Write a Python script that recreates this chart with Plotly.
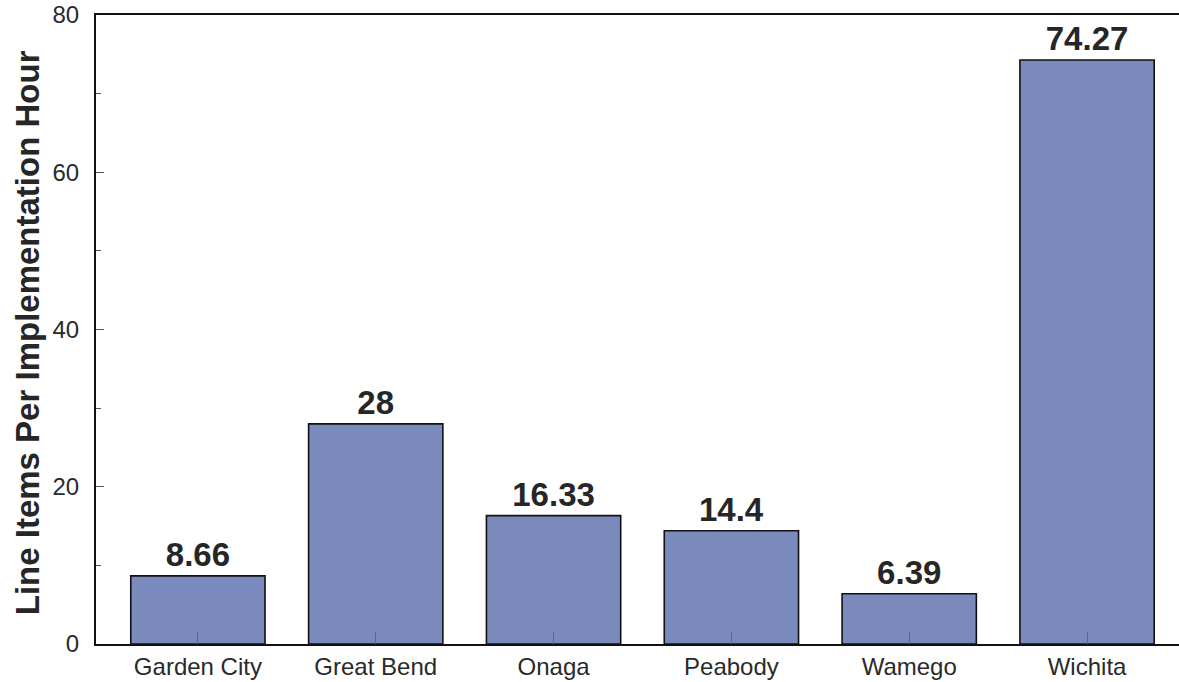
import plotly.graph_objects as go

# Line items per implementation hour, by site
sites = ["Garden City", "Great Bend", "Onaga", "Peabody", "Wamego", "Wichita"]
items_per_hour = [8.66, 28, 16.33, 14.4, 6.39, 74.27]
value_labels = ["8.66", "28", "16.33", "14.4", "6.39", "74.27"]

y_ticks = [0, 20, 40, 60, 80]

bar_fill = "#7b8abc"
text_dark = "#262626"

fig = go.Figure(
    go.Bar(
        x=list(range(len(sites))),
        y=items_per_hour,
        text=value_labels,
        textposition="outside",
        cliponaxis=False,
        textfont=dict(family="Liberation Sans, Arial, sans-serif", size=33,
                      color=text_dark, weight="bold"),
        marker=dict(color=bar_fill, line=dict(color="#111111", width=1.6)),
        width=0.755,
    )
)

fig.update_layout(
    width=1179,
    height=682,
    margin=dict(l=96, r=0, t=15, b=38),
    paper_bgcolor="white",
    plot_bgcolor="white",
    showlegend=False,
    font=dict(family="Liberation Sans, Arial, sans-serif", color="#2a2a2a"),
)

fig.update_xaxes(
    range=[-0.573, 5.517],
    tickmode="array",
    tickvals=list(range(len(sites))),
    ticktext=sites,
    tickfont=dict(size=24, color="#2a2a2a"),
    ticks="inside",
    ticklen=12,
    tickwidth=1,
    tickcolor="#666666",
    showline=True,
    linecolor="#111111",
    linewidth=2,
    mirror=True,
    showgrid=False,
    zeroline=False,
)

fig.update_yaxes(
    range=[0, 80],
    tickmode="array",
    tickvals=y_ticks,
    ticktext=[str(v) for v in y_ticks],
    tickfont=dict(size=24, color="#2a2a2a"),
    ticks="inside",
    ticklen=8,
    tickwidth=1,
    tickcolor="#555555",
    ticklabelstandoff=10,
    minor=dict(tickvals=[10, 30, 50, 70], ticks="inside", ticklen=5,
               tickwidth=1, tickcolor="#555555"),
    showline=True,
    linecolor="#111111",
    linewidth=2,
    showgrid=False,
    zeroline=False,
)

fig.add_annotation(
    text="Line Items Per Implementation Hour",
    textangle=-90,
    xref="paper", yref="paper",
    x=(27 - 96) / 1083, y=0.494,
    xanchor="center", yanchor="middle",
    showarrow=False,
    font=dict(family="Liberation Sans, Arial, sans-serif", size=33,
              color=text_dark, weight="bold"),
)

fig.write_html("out.html")
